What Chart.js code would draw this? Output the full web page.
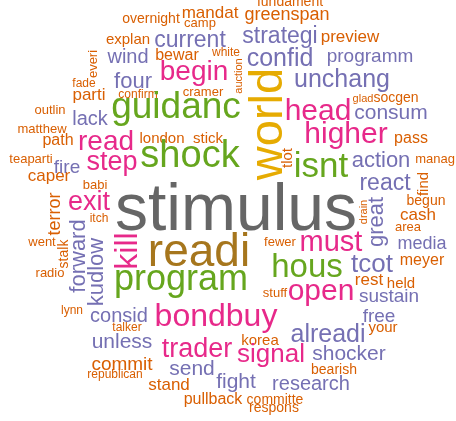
<!DOCTYPE html>
<html>
<head>
<meta charset="utf-8">
<script src="https://cdn.jsdelivr.net/npm/chart.js@4"></script>
<style>
  html, body { margin: 0; padding: 0; background: #fff; }
  #wrap { width: 456px; height: 421px; }
</style>
</head>
<body>
<div id="wrap"><canvas id="cloud"></canvas></div>
<script>
// words, their counts and colour tier (0 = least frequent ... 6 = most frequent)
const words = [
  'fundament','overnight','mandat','camp','greenspan','explan','preview','bewar','white','everi',
  'auction','fade','parti','confirm','cramer','glad','socgen','outlin','matthew','path',
  'london','stick','pass','teaparti','tlot','manag','caper','babi','find','terror',
  'drain','begun','itch','cash','area','went','stalk','fewer','meyer','radio',
  'rest','held','stuff','lynn','talker','your','korea','commit','republican','bearish',
  'stand','pullback','committe','respons',
  'current','strategi','confid','programm','wind','unchang','four','lack','consum','fire',
  'action','react','great','media','tcot','forward','kudlow','sustain','free','consid',
  'alreadi','unless','shocker','send','fight','research',
  'begin','head','higher','read','step','exit','kill','must','open','bondbuy','trader','signal',
  'guidanc','shock','isnt','program','hous',
  'world','readi','stimulus'
];
const counts = [
  4,4,7,3,8,5,7,6,2,3,
  1,2,7,2,3,1,4,3,3,6,
  5,5,6,3,5,3,7,3,5,8,
  1,4,2,7,3,3,4,3,6,3,
  7,5,3,2,2,5,5,9,2,4,
  7,6,4,4,
  13,13,15,9,10,15,12,10,11,9,
  12,13,12,8,16,12,12,9,9,10,
  15,11,11,11,11,10,
  18,20,20,18,17,17,22,19,20,22,17,16,
  27,28,25,26,23,
  37,36,56
];
const tiers = [
  0,0,0,0,0,0,0,0,0,0,
  0,0,0,0,0,0,0,0,0,0,
  0,0,0,0,0,0,0,0,0,0,
  0,0,0,0,0,0,0,0,0,0,
  0,0,0,0,0,0,0,0,0,0,
  0,0,0,0,
  1,1,1,1,1,1,1,1,1,1,
  1,1,1,1,1,1,1,1,1,1,
  1,1,1,1,1,1,
  2,2,2,2,2,2,2,2,2,2,2,2,
  3,3,3,3,3,
  4,5,6
];
// layout of the cloud (word anchor: baseline, centred along the word)
const cloudX = [
  290,151,210,200,287,128,350,177,226,97,
  242,84,89,138,203,363,396,50,42,58,
  162,208,411,31,292,435,49,95,428,60,
  367,426,99,418,408,42,68,280,422,50,
  369,401,275,72,127,383,260,122,115,334,
  169,213,275,274,
  190,280,280,370,128,342,133,90,391,67,
  381,385,383,422,372,85,103,389,379,119,
  328,122,349,192,236,311,
  194,318,346,106,112,89,137,331,321,216,197,271,
  176,190,321,181,307,
  282,199,236
];
const cloudY = [
  6,23,18,27,20,44,42,60,56,64,
  76,87,100,98,96,102,102,114,133,145,
  143,143,143,163,158,163,181,189,184,214,
  212,205,222,220,231,246,254,246,265,277,
  285,288,297,314,331,332,345,370,378,374,
  390,404,404,412,
  47,43,66,62,63,87,88,125,119,173,
  167,190,222,249,272,256,272,302,322,322,
  342,348,360,375,388,390,
  80,120,143,150,170,210,251,251,300,326,357,362,
  118,167,177,290,277,
  124,266,230
];
const vertical = ['everi','auction','tlot','find','terror','drain','stalk','great','forward','kudlow','kill','world'];

const tierColors = ['#D95F02', '#7570B3', '#E7298A', '#66A61E', '#E6AB02', '#A6761D', '#666666'];
const minFont = 11, maxFont = 66;
const minCount = Math.min(...counts), maxCount = Math.max(...counts);

function fontSize(c) {
  return minFont + (c - minCount) * (maxFont - minFont) / (maxCount - minCount);
}

const wordPlugin = {
  id: 'wordPlugin',
  afterDatasetsDraw(chart) {
    const ctx = chart.ctx;
    const meta = chart.getDatasetMeta(0);
    ctx.save();
    ctx.textAlign = 'center';
    ctx.textBaseline = 'alphabetic';
    meta.data.forEach((pt, i) => {
      ctx.save();
      ctx.font = fontSize(counts[i]) + 'px "Liberation Sans", Arial, sans-serif';
      ctx.fillStyle = tierColors[tiers[i]];
      ctx.translate(pt.x, pt.y);
      if (vertical.includes(words[i])) ctx.rotate(-Math.PI / 2);
      ctx.fillText(words[i], 0, 0);
      ctx.restore();
    });
    ctx.restore();
  }
};

new Chart(document.getElementById('cloud'), {
  type: 'scatter',
  data: {
    datasets: [{
      label: 'words',
      data: words.map((w, i) => ({ x: cloudX[i], y: cloudY[i] })),
      pointRadius: 0,
      pointHoverRadius: 0
    }]
  },
  options: {
    responsive: true,
    maintainAspectRatio: false,
    animation: false,
    layout: { padding: 0 },
    plugins: { legend: { display: false }, tooltip: { enabled: false } },
    scales: {
      x: { type: 'linear', min: 0, max: 456, display: false },
      y: { type: 'linear', min: 0, max: 421, reverse: true, display: false }
    }
  },
  plugins: [wordPlugin]
});
</script>
</body>
</html>
